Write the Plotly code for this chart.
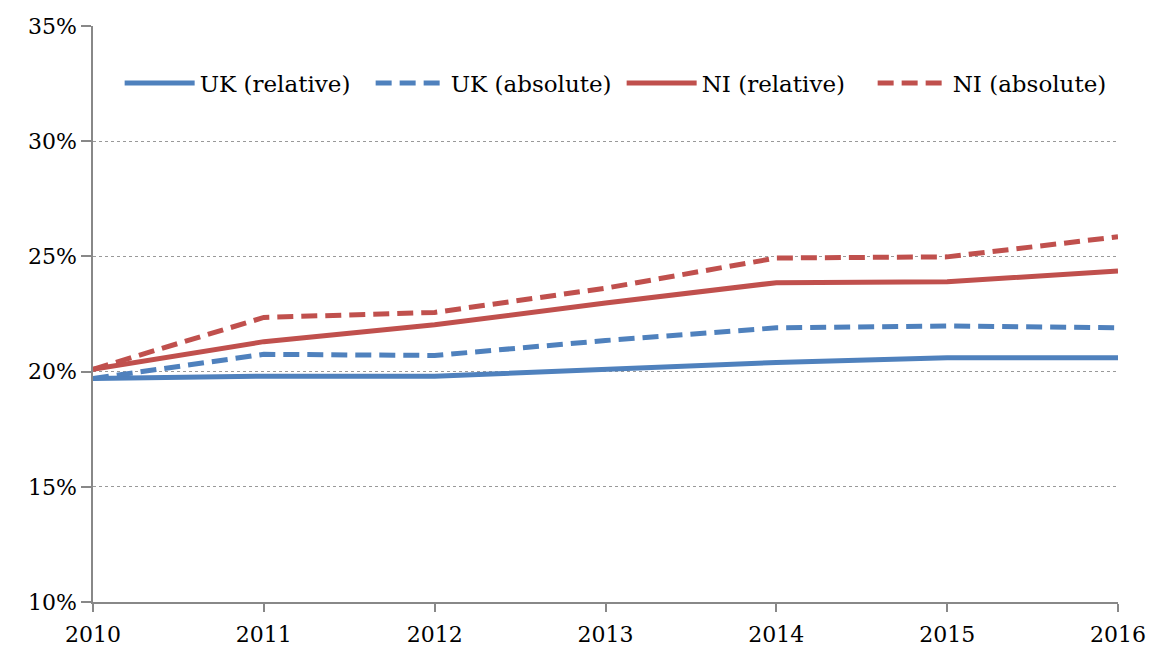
import plotly.graph_objects as go

years = [2010, 2011, 2012, 2013, 2014, 2015, 2016]
uk_relative = [19.7, 19.8, 19.8, 20.1, 20.4, 20.6, 20.6]
uk_absolute = [19.7, 20.75, 20.7, 21.35, 21.9, 21.98, 21.9]
ni_relative = [20.1, 21.3, 22.03, 22.98, 23.86, 23.9, 24.37]
ni_absolute = [20.1, 22.35, 22.57, 23.62, 24.93, 24.98, 25.85]

series_names = ["UK (relative)", "UK (absolute)", "NI (relative)", "NI (absolute)"]
y_ticks = [10, 15, 20, 25, 30, 35]

BLUE = "#4F81BD"
RED = "#C0504D"
FONT = "DejaVu Serif"

fig = go.Figure()
styles = [(uk_relative, BLUE, "solid"), (uk_absolute, BLUE, "16px,8px"),
          (ni_relative, RED, "solid"), (ni_absolute, RED, "16px,8px")]
for name, (vals, col, dash) in zip(series_names, styles):
    fig.add_trace(go.Scatter(x=years, y=vals, name=name, mode="lines",
                             line=dict(color=col, width=5, dash=dash)))

fig.update_layout(
    width=1151, height=647,
    margin=dict(l=93, r=33, t=26, b=45),
    paper_bgcolor="white", plot_bgcolor="white",
    font=dict(family=FONT, size=22, color="#000"),
    showlegend=True,
    legend=dict(orientation="h", x=0.026, y=0.901, xanchor="left", yanchor="middle",
                font=dict(family=FONT, size=23), itemwidth=70,
                entrywidth=166, entrywidthmode="pixels",
                bgcolor="rgba(0,0,0,0)"),
)
fig.update_xaxes(range=[2010, 2016], tickvals=years, ticktext=[str(y) for y in years],
                 showline=True, linecolor="#888", linewidth=1.5,
                 ticks="outside", ticklen=8, tickcolor="#888", tickwidth=1.5,
                 ticklabelstandoff=4,
                 showgrid=False, zeroline=False, tickfont=dict(size=22), automargin=False)
fig.update_yaxes(range=[10, 35], tickvals=y_ticks, ticktext=[f"{v}%" for v in y_ticks],
                 showline=True, linecolor="#888", linewidth=1.5,
                 ticks="outside", ticklen=10, tickcolor="#888", tickwidth=1.5,
                 showgrid=True, gridcolor="#999", griddash="dot", gridwidth=1.3,
                 zeroline=False, tickfont=dict(size=22), automargin=False)

fig.write_html("out.html", config={"displayModeBar": False},
               post_script="document.body.style.margin='0';document.body.style.padding='0';")
